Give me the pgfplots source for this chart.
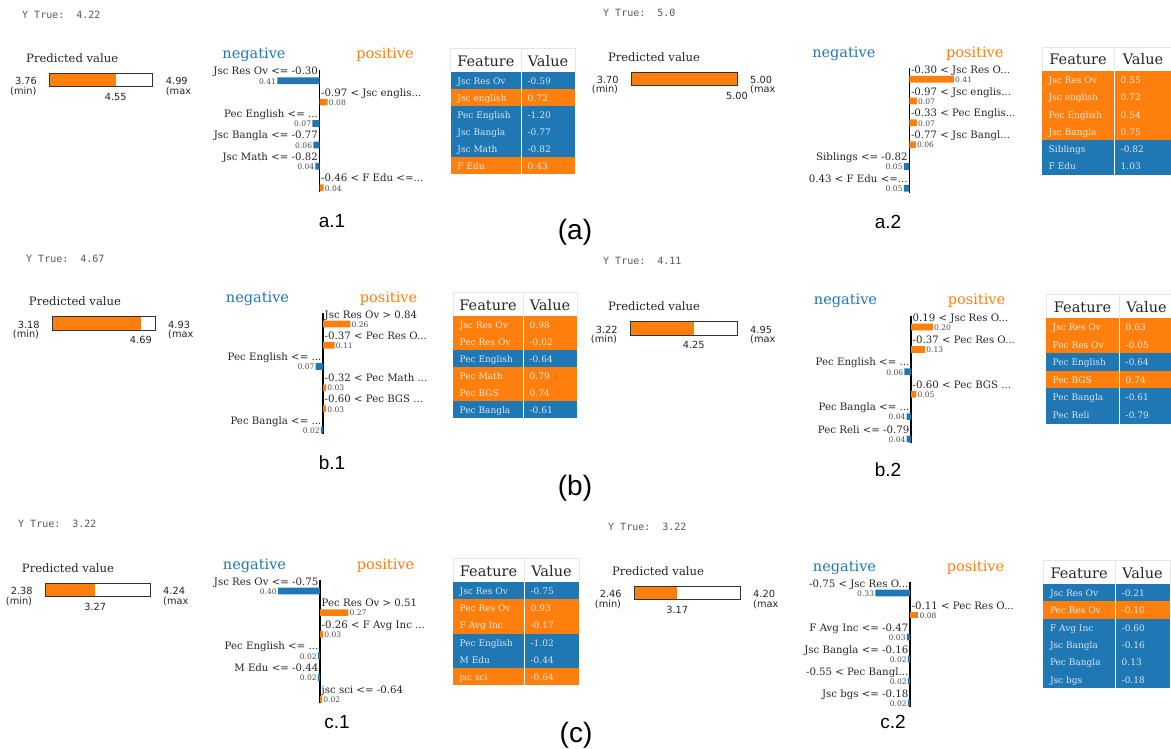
\documentclass[border=0pt]{standalone}
\usepackage{pgfplots}
\pgfplotsset{compat=1.18}
\usepackage{fontspec}
\setmainfont{DejaVu Serif}
\newfontfamily\dvsans{DejaVu Sans}
\newfontfamily\dvmono{DejaVu Sans Mono}
\newfontfamily\lsans{Liberation Sans}

\definecolor{limeblue}{HTML}{1F77B4}
\definecolor{limeorange}{HTML}{FF7F0E}

% font sizes (1pt = 1px of the reference)
\newcommand\flab{\fontsize{10.2}{12}\selectfont}
\newcommand\fval{\fontsize{7.6}{9}\selectfont}
\newcommand\fhead{\fontsize{14.5}{17}\selectfont}
\newcommand\fcell{\fontsize{9}{10}\selectfont}
\newcommand\fpv{\fontsize{11.6}{14}\selectfont}
\newcommand\fleg{\fontsize{14.5}{17}\selectfont}
\newcommand\fnum{\dvsans\fontsize{9.8}{12}\selectfont}
\newcommand\fyt{\dvmono\fontsize{10}{12}\selectfont}
\newcommand\fsub{\lsans\fontsize{19}{22}\selectfont}
\newcommand\fcap{\lsans\fontsize{28}{32}\selectfont}

\pgfplotsset{
  limebar/.style n args={4}{% zero x, top y, row pitch, px per unit
    at={(#1pt,-#2pt)}, anchor=north,
    x=#4pt, y=#3pt, y dir=reverse,
    xmin=-1.5, xmax=1.5, ymin=0.5, ymax=6.2,
    axis x line=none, axis y line=center,
    axis line style={-, black, line width=1.6pt},
    xtick=\empty, ytick=\empty, clip=false,
  },
  negbar/.style={xbar, bar shift=0pt, bar width=6.7pt, fill=limeblue, draw=none,
    nodes near coords, point meta=explicit symbolic,
    nodes near coords style={anchor=base east, inner sep=0pt, xshift=-1pt,
      yshift=-3.3pt, font=\fval, text=black!70}},
  posbar/.style={xbar, bar shift=0pt, bar width=6.7pt, fill=limeorange, draw=none,
    nodes near coords, point meta=explicit symbolic,
    nodes near coords style={anchor=base west, inner sep=0pt, xshift=1pt,
      yshift=-3.3pt, font=\fval, text=black!70}},
  neglab/.style={xbar, bar shift=0pt, bar width=0pt, draw=none, fill=none,
    nodes near coords, point meta=explicit symbolic,
    nodes near coords style={anchor=base east, inner sep=0pt, xshift=-1.5pt,
      yshift=6pt, font=\flab, text=black!85}},
  poslab/.style={xbar, bar shift=0pt, bar width=0pt, draw=none, fill=none,
    nodes near coords, point meta=explicit symbolic,
    nodes near coords style={anchor=base west, inner sep=0pt, xshift=1.5pt,
      yshift=6pt, font=\flab, text=black!85}},
}

% predicted value box: left, top, width, min, max, predicted, title x
\newcommand\limepred[7]{%
  \begin{axis}[at={(#1pt,-#2pt)}, anchor=north west, scale only axis,
      width=#3pt, height=13.4pt, xmin=#4, xmax=#5, ymin=0, ymax=1,
      xtick=\empty, ytick=\empty, axis on top,
      axis line style={black!80, line width=0.8pt}]
    \addplot[xbar, bar shift=0pt, bar width=13.4pt, fill=limeorange, draw=none,
      nodes near coords, point meta=explicit symbolic,
      nodes near coords style={anchor=base, inner sep=0pt, yshift=-20.7pt,
        font=\fnum, text=black!85}]
      coordinates {(#6,0.5)[#6]};
  \end{axis}
  \node[font=\fpv, text=black!85, anchor=base, inner sep=0pt] at (#7,{#2-10.6}) {Predicted value};
  \node[font=\fnum, text=black!85, anchor=base, inner sep=0pt] at ({#1-23.3},{#2+11.7}) {#4};
  \node[font=\fnum, text=black!85, anchor=base, inner sep=0pt] at ({#1-26},{#2+21}) {(min)};
  \node[font=\fnum, text=black!85, anchor=base west, inner sep=0pt] at ({#1+#3+13},{#2+11.7}) {#5};
  \node[font=\fnum, text=black!85, anchor=base west, inner sep=0pt] at ({#1+#3+13},{#2+21}) {(max};
}

% negative / positive legend above a bar chart: zero x, top y
\newcommand\limelegend[2]{%
  \node[font=\fleg, text=limeblue, anchor=base, inner sep=0pt] at ({#1-65.5},{#2-11}) {negative};
  \node[font=\fleg, text=limeorange, anchor=base, inner sep=0pt] at ({#1+65.5},{#2-11}) {positive};
}

% feature table: left, split, right, top, row height, rows
\newcommand\limetable[6]{%
  \fill[white] (#1,#4) rectangle (#3,{#4+24});
  \draw[black!10, line width=0.6pt] (#1,{#4+24}) -- (#1,#4) -- (#3,#4) -- (#3,{#4+24});
  \draw[black!10, line width=0.6pt] (#2,#4) -- (#2,{#4+24});
  \node[font=\fhead, text=black!85, anchor=base, inner sep=0pt] at ({(#1+#2)/2},{#4+18}) {Feature};
  \node[font=\fhead, text=black!85, anchor=base, inner sep=0pt] at ({(#2+#3)/2},{#4+18}) {Value};
  \foreach \fn/\fv/\fc [count=\i] in {#6} {
    \fill[fill=\fc] (#1,{#4+24+(\i-1)*#5}) rectangle (#3,{#4+24+\i*#5});
    \node[font=\fcell, text=white, text opacity=0.82, anchor=base west, inner sep=0pt]
      at ({#1+6.5},{#4+24+(\i-1)*#5+12.5}) {\fn};
    \node[font=\fcell, text=white, text opacity=0.82, anchor=base west, inner sep=0pt]
      at ({#2+6.5},{#4+24+(\i-1)*#5+12.5}) {\fv};
  }
  \draw[white, line width=0.8pt] (#2,{#4+24}) -- (#2,{#4+24+6*#5});
}

\begin{document}
\begin{tikzpicture}[x=1pt,y=-1pt]
\useasboundingbox (0,0) rectangle (1171,749);
\fill[white] (0,0) rectangle (1171,749);

% ---------------- row (a) ----------------
\node[font=\fyt, text=black!65, anchor=base west, inner sep=0pt] at (22,19) {Y True:\ \ 4.22};
\limepred{49.3}{73.3}{103.4}{3.76}{4.99}{4.55}{72.2}
\limelegend{319.5}{70}
\begin{axis}[limebar={319.5}{70}{21.4}{103}]
  \addplot[negbar] coordinates {(-0.41,1)[0.41] (-0.07,3)[0.07] (-0.06,4)[0.06] (-0.04,5)[0.04]};
  \addplot[posbar] coordinates {(0.08,2)[0.08] (0.04,6)[0.04]};
  \addplot[neglab] coordinates {(0,1)[Jsc Res Ov <= -0.30] (0,3)[Pec English <= ...]
    (0,4)[Jsc Bangla <= -0.77] (0,5)[Jsc Math <= -0.82]};
  \addplot[poslab] coordinates {(0,2)[-0.97 < Jsc englis...] (0,6)[-0.46 < F Edu <=...]};
\end{axis}
\limetable{450.7}{521}{575}{48.3}{16.9}{Jsc Res Ov/-0.59/limeblue, Jsc english/0.72/limeorange,
  Pec English/-1.20/limeblue, Jsc Bangla/-0.77/limeblue, Jsc Math/-0.82/limeblue, F Edu/0.43/limeorange}
\node[font=\fsub, anchor=base, inner sep=0pt] at (332,228) {a.1};

\node[font=\fyt, text=black!65, anchor=base west, inner sep=0pt] at (603,16.5) {Y True:\ \ 5.0};
\limepred{631}{72}{106}{3.70}{5.00}{5.00}{654}
\limelegend{909.3}{68.3}
\begin{axis}[limebar={909.3}{68.3}{21.8}{109}]
  \addplot[posbar] coordinates {(0.41,1)[0.41] (0.07,2)[0.07] (0.07,3)[0.07] (0.06,4)[0.06]};
  \addplot[negbar] coordinates {(-0.05,5)[0.05] (-0.05,6)[0.05]};
  \addplot[poslab] coordinates {(0,1)[-0.30 < Jsc Res O...] (0,2)[-0.97 < Jsc englis...]
    (0,3)[-0.33 < Pec Englis...] (0,4)[-0.77 < Jsc Bangl...]};
  \addplot[neglab] coordinates {(0,5)[Siblings <= -0.82] (0,6)[0.43 < F Edu <=...]};
\end{axis}
\limetable{1042}{1114}{1172}{47}{17.3}{Jsc Res Ov/0.55/limeorange, Jsc english/0.72/limeorange,
  Pec English/0.54/limeorange, Jsc Bangla/0.75/limeorange, Siblings/-0.82/limeblue, F Edu/1.03/limeblue}
\node[font=\fsub, anchor=base, inner sep=0pt] at (888,229) {a.2};
\node[font=\fcap, anchor=base, inner sep=0pt] at (575,240) {(a)};

% ---------------- row (b) ----------------
\node[font=\fyt, text=black!65, anchor=base west, inner sep=0pt] at (26,262) {Y True:\ \ 4.67};
\limepred{52}{316.5}{103}{3.18}{4.93}{4.69}{75}
\limelegend{323}{313.4}
\begin{axis}[limebar={323}{313.4}{21.2}{105}]
  \addplot[posbar] coordinates {(0.26,1)[0.26] (0.11,2)[0.11] (0.03,4)[0.03] (0.03,5)[0.03]};
  \addplot[negbar] coordinates {(-0.07,3)[0.07] (-0.02,6)[0.02]};
  \addplot[poslab] coordinates {(0,1)[Jsc Res Ov > 0.84] (0,2)[-0.37 < Pec Res O...]
    (0,4)[-0.32 < Pec Math ...] (0,5)[-0.60 < Pec BGS ...]};
  \addplot[neglab] coordinates {(0,3)[Pec English <= ...] (0,6)[Pec Bangla <= ...]};
\end{axis}
\limetable{453}{523}{577}{292}{17}{Jsc Res Ov/0.98/limeorange, Pec Res Ov/-0.02/limeorange,
  Pec English/-0.64/limeblue, Pec Math/0.79/limeorange, Pec BGS/0.74/limeorange, Pec Bangla/-0.61/limeblue}
\node[font=\fsub, anchor=base, inner sep=0pt] at (332,469) {b.1};

\node[font=\fyt, text=black!65, anchor=base west, inner sep=0pt] at (603,264) {Y True:\ \ 4.11};
\limepred{630}{321.5}{107}{3.22}{4.95}{4.25}{654}
\limelegend{911}{315.8}
\begin{axis}[limebar={911}{315.8}{22.4}{109}]
  \addplot[posbar] coordinates {(0.20,1)[0.20] (0.13,2)[0.13] (0.05,4)[0.05]};
  \addplot[negbar] coordinates {(-0.06,3)[0.06] (-0.04,5)[0.04] (-0.04,6)[0.04]};
  \addplot[poslab] coordinates {(0,1)[0.19 < Jsc Res O...] (0,2)[-0.37 < Pec Res O...]
    (0,4)[-0.60 < Pec BGS ...]};
  \addplot[neglab] coordinates {(0,3)[Pec English <= ...] (0,5)[Pec Bangla <= ...]
    (0,6)[Pec Reli <= -0.79]};
\end{axis}
\limetable{1046}{1119}{1174}{294}{17.6}{Jsc Res Ov/0.63/limeorange, Pec Res Ov/-0.05/limeorange,
  Pec English/-0.64/limeblue, Pec BGS/0.74/limeorange, Pec Bangla/-0.61/limeblue, Pec Reli/-0.79/limeblue}
\node[font=\fsub, anchor=base, inner sep=0pt] at (888,476) {b.2};
\node[font=\fcap, anchor=base, inner sep=0pt] at (575,495) {(b)};

% ---------------- row (c) ----------------
\node[font=\fyt, text=black!65, anchor=base west, inner sep=0pt] at (18,527.5) {Y True:\ \ 3.22};
\limepred{45}{583}{105}{2.38}{4.24}{3.27}{68}
\limelegend{320}{580.2}
\begin{axis}[limebar={320}{580.2}{21.6}{105}]
  \addplot[negbar] coordinates {(-0.40,1)[0.40] (-0.02,4)[0.02] (-0.02,5)[0.02]};
  \addplot[posbar] coordinates {(0.27,2)[0.27] (0.03,3)[0.03] (0.02,6)[0.02]};
  \addplot[neglab] coordinates {(0,1)[Jsc Res Ov <= -0.75] (0,4)[Pec English <= ...]
    (0,5)[M Edu <= -0.44]};
  \addplot[poslab] coordinates {(0,2)[Pec Res Ov > 0.51] (0,3)[-0.26 < F Avg Inc ...]
    (0,6)[jsc sci <= -0.64]};
\end{axis}
\limetable{453}{524}{579}{558}{17.2}{Jsc Res Ov/-0.75/limeblue, Pec Res Ov/0.93/limeorange,
  F Avg Inc/-0.17/limeorange, Pec English/-1.02/limeblue, M Edu/-0.44/limeblue, jsc sci/-0.64/limeorange}
\node[font=\fsub, anchor=base, inner sep=0pt] at (337,728) {c.1};

\node[font=\fyt, text=black!65, anchor=base west, inner sep=0pt] at (608,530) {Y True:\ \ 3.22};
\limepred{634}{586}{106}{2.46}{4.20}{3.17}{658}
\limelegend{910}{582}
\begin{axis}[limebar={910}{582}{22}{105}]
  \addplot[negbar] coordinates {(-0.33,1)[0.33] (-0.03,3)[0.03] (-0.02,4)[0.02]
    (-0.02,5)[0.02] (-0.02,6)[0.02]};
  \addplot[posbar] coordinates {(0.08,2)[0.08]};
  \addplot[neglab] coordinates {(0,1)[-0.75 < Jsc Res O...] (0,3)[F Avg Inc <= -0.47]
    (0,4)[Jsc Bangla <= -0.16] (0,5)[-0.55 < Pec Bangl...] (0,6)[Jsc bgs <= -0.18]};
  \addplot[poslab] coordinates {(0,2)[-0.11 < Pec Res O...]};
\end{axis}
\limetable{1043.3}{1115}{1170}{560}{17.3}{Jsc Res Ov/-0.21/limeblue, Pec Res Ov/-0.10/limeorange,
  F Avg Inc/-0.60/limeblue, Jsc Bangla/-0.16/limeblue, Pec Bangla/0.13/limeblue, Jsc bgs/-0.18/limeblue}
\node[font=\fsub, anchor=base, inner sep=0pt] at (893,728) {c.2};
\node[font=\fcap, anchor=base, inner sep=0pt] at (576,742) {(c)};

\end{tikzpicture}
\end{document}
